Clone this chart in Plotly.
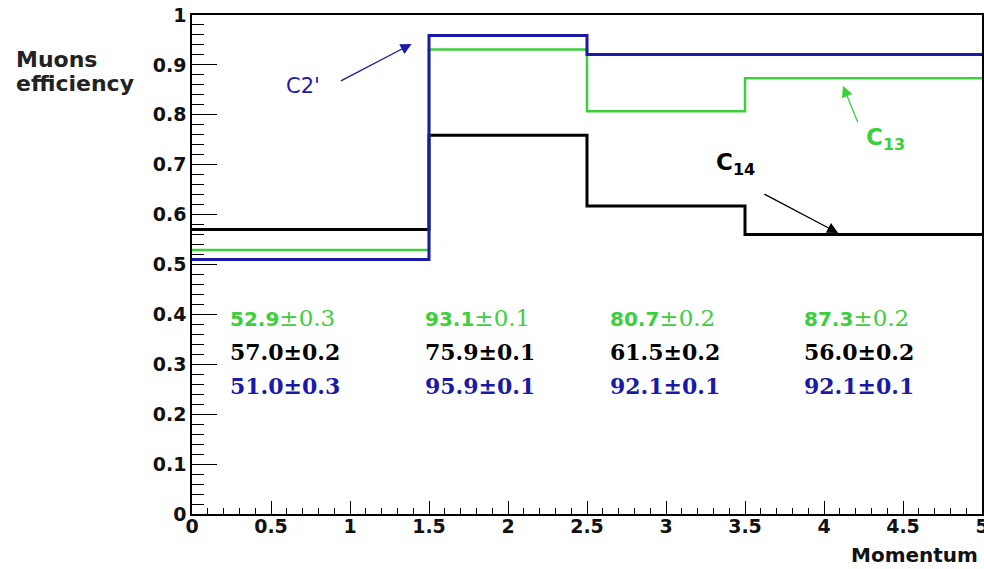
import plotly.graph_objects as go

edges = [0, 1.5, 2.5, 3.5, 5]
blue_vals = [0.510, 0.959, 0.921, 0.921]
green_vals = [0.529, 0.931, 0.807, 0.873]
black_vals = [0.570, 0.759, 0.617, 0.560]

green_txt = [("52.9", "±0.3"), ("93.1", "±0.1"), ("80.7", "±0.2"), ("87.3", "±0.2")]
black_txt = ["57.0±0.2", "75.9±0.1", "61.5±0.2", "56.0±0.2"]
blue_txt = ["51.0±0.3", "95.9±0.1", "92.1±0.1", "92.1±0.1"]
text_x = [0.228, 1.462, 2.633, 3.861]
text_y = [0.393, 0.325, 0.257]

BLUE = "#1a1aa6"
GREEN = "#3ccf3c"
BLACK = "#000000"
SANS = "DejaVu Sans"
SERIF = "DejaVu Serif"

fig = go.Figure()
for vals, col, w in [(black_vals, BLACK, 3), (green_vals, GREEN, 2.5), (blue_vals, BLUE, 3)]:
    fig.add_trace(go.Scatter(x=edges, y=vals + [vals[-1]], mode="lines",
                             line=dict(color=col, width=w, shape="hv"),
                             showlegend=False, hoverinfo="skip"))

ann = []
for i, x in enumerate(text_x):
    n, e = green_txt[i]
    ann.append(dict(x=x, y=text_y[0], xref="x", yref="y", xanchor="left", yanchor="middle",
                    showarrow=False,
                    text=f"<b>{n}</b><span style='font-family:DejaVu Serif;font-size:23px'>{e}</span>",
                    font=dict(family=SANS, size=20, color=GREEN)))
    ann.append(dict(x=x, y=text_y[1], xref="x", yref="y", xanchor="left", yanchor="middle",
                    showarrow=False, text=black_txt[i],
                    font=dict(family=SERIF, size=22, color=BLACK, weight="bold")))
    ann.append(dict(x=x, y=text_y[2], xref="x", yref="y", xanchor="left", yanchor="middle",
                    showarrow=False, text=blue_txt[i],
                    font=dict(family=SERIF, size=22, color=BLUE, weight="bold")))

# curve labels
ann.append(dict(x=0.70, y=0.858, xref="x", yref="y", showarrow=False, text="C2'",
                font=dict(family=SANS, size=21, color=BLUE)))
ann.append(dict(x=4.39, y=0.752, xref="x", yref="y", showarrow=False, text="C<sub>13</sub>",
                font=dict(family=SANS, size=23, color=GREEN, weight="bold")))
ann.append(dict(x=3.44, y=0.702, xref="x", yref="y", showarrow=False, text="C<sub>14</sub>",
                font=dict(family=SANS, size=23, color=BLACK, weight="bold")))
# arrows
for (tx, ty, hx, hy, col) in [(0.93, 0.866, 1.39, 0.942, BLUE),
                              (4.22, 0.780, 4.12, 0.858, GREEN),
                              (3.61, 0.643, 4.09, 0.563, BLACK)]:
    ann.append(dict(x=hx, y=hy, ax=tx, ay=ty, xref="x", yref="y", axref="x", ayref="y",
                    showarrow=True, arrowhead=2, arrowsize=1.7, arrowwidth=1.3,
                    arrowcolor=col, text=" ", font=dict(size=2)))

# axis titles
ann.append(dict(xref="paper", yref="paper", x=-0.2253, y=0.910, xanchor="left", yanchor="middle",
                showarrow=False, text="Muons",
                font=dict(family=SANS, size=22, color="#222", weight="bold")))
ann.append(dict(xref="paper", yref="paper", x=-0.2253, y=0.862, xanchor="left", yanchor="middle",
                showarrow=False, text="efficiency",
                font=dict(family=SANS, size=22, color="#222", weight="bold")))
ann.append(dict(xref="paper", yref="paper", x=0.9975, y=-0.082, xanchor="right", yanchor="middle",
                showarrow=False, text="Momentum",
                font=dict(family=SANS, size=20, color="#111", weight="bold")))
fig.update_layout(annotations=ann)

fig.update_xaxes(range=[0, 5], tickvals=[0, 0.5, 1, 1.5, 2, 2.5, 3, 3.5, 4, 4.5, 5],
                 ticktext=["0", "0.5", "1", "1.5", "2", "2.5", "3", "3.5", "4", "4.5", "5"],
                 ticks="inside", ticklen=13, tickwidth=1, tickcolor="black",
                 minor=dict(ticks="inside", dtick=0.1, tick0=0, ticklen=6, tickcolor="black"),
                 showline=True, linecolor="black", linewidth=1.5, mirror=True,
                 showgrid=False, zeroline=False, ticklabeloverflow="allow",
                 ticklabelstandoff=-6, automargin=False,
                 tickfont=dict(family=SANS, size=19, color="#111", weight="bold"))
fig.update_yaxes(range=[0, 1], tickvals=[0, 0.1, 0.2, 0.3, 0.4, 0.5, 0.6, 0.7, 0.8, 0.9, 1],
                 ticktext=["0", "0.1", "0.2", "0.3", "0.4", "0.5", "0.6", "0.7", "0.8", "0.9", "1"],
                 ticks="inside", ticklen=25, tickwidth=1, tickcolor="black",
                 minor=dict(ticks="inside", dtick=0.02, tick0=0, ticklen=12, tickcolor="black"),
                 showline=True, linecolor="black", linewidth=1.5, mirror=True,
                 showgrid=False, zeroline=False, automargin=False,
                 tickfont=dict(family=SANS, size=19, color="#111", weight="bold"))
fig.update_layout(width=984, height=569, margin=dict(l=192, r=2, t=15, b=55),
                  plot_bgcolor="white", paper_bgcolor="white", font=dict(family=SANS))
fig.write_html("out.html")
